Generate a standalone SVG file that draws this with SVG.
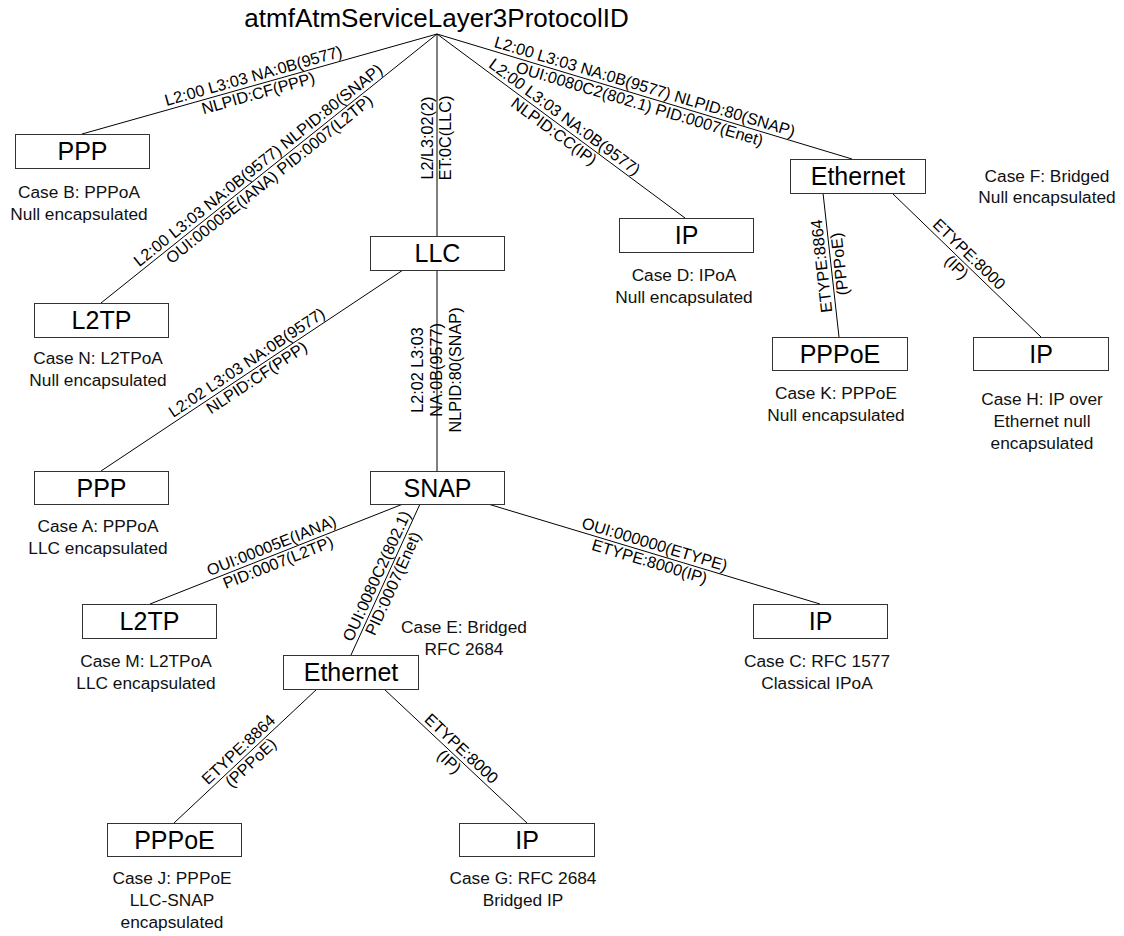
<svg xmlns="http://www.w3.org/2000/svg" width="1124" height="936" viewBox="0 0 1124 936">
<style>
.bg{fill:#fff}
.box{fill:#fff;stroke:#333;stroke-width:1}
.bt{font-family:"Liberation Sans",Arial,sans-serif;font-size:25px;text-anchor:middle;fill:#000}
.ct{font-family:"Liberation Sans",Arial,sans-serif;font-size:17.3px;text-anchor:middle;fill:#111}
.lt{font-family:"Liberation Sans",Arial,sans-serif;font-size:16.2px;text-anchor:middle;fill:#000}
.title{font-family:"Liberation Sans",Arial,sans-serif;font-size:26px;text-anchor:middle;fill:#000}
.conn{stroke:#000;stroke-width:1;fill:none}
</style>
<rect class="bg" x="0" y="0" width="1124" height="936"/>
<g id="root"><text class="title" x="436.5" y="27">atmfAtmServiceLayer3ProtocolID</text></g>
<g id="connectors">
  <line class="conn" x1="437" y1="34" x2="82" y2="134"/>
  <line class="conn" x1="437" y1="34" x2="101" y2="303"/>
  <line class="conn" x1="437" y1="34" x2="437" y2="236"/>
  <line class="conn" x1="437" y1="34" x2="685" y2="218"/>
  <line class="conn" x1="437" y1="34" x2="852" y2="159"/>
  <line class="conn" x1="823" y1="193" x2="839" y2="337"/>
  <line class="conn" x1="892" y1="193" x2="1041" y2="337"/>
  <line class="conn" x1="403" y1="270" x2="101" y2="471"/>
  <line class="conn" x1="437" y1="270" x2="437" y2="471"/>
  <line class="conn" x1="403" y1="504" x2="150" y2="604"/>
  <line class="conn" x1="420" y1="504" x2="351" y2="655"/>
  <line class="conn" x1="488" y1="504" x2="820" y2="604"/>
  <line class="conn" x1="317" y1="689" x2="174" y2="823"/>
  <line class="conn" x1="384" y1="689" x2="527" y2="823"/>
  <text class="lt" transform="translate(256,85) rotate(-15.73)"><tspan x="0" y="-4">L2:00 L3:03 NA:0B(9577)</tspan><tspan x="0" y="14">NLPID:CF(PPP)</tspan></text>
  <text class="lt" transform="translate(264,172.5) rotate(-38.68)"><tspan x="0" y="-4">L2:00 L3:03 NA:0B(9577) NLPID:80(SNAP)</tspan><tspan x="0" y="14">OUI:00005E(IANA) PID:0007(L2TP)</tspan></text>
  <text class="lt" transform="translate(437,138) rotate(-90)"><tspan x="0" y="-4">L2/L3:02(2)</tspan><tspan x="0" y="14">ET:0C(LLC)</tspan></text>
  <text class="lt" transform="translate(559,124.5) rotate(36.57)"><tspan x="0" y="-4">L2:00 L3:03 NA:0B(9577)</tspan><tspan x="0" y="14">NLPID:CC(IP)</tspan></text>
  <text class="lt" transform="translate(642,95.7) rotate(16.76)"><tspan x="0" y="-4">L2:00 L3:03 NA:0B(9577) NLPID:80(SNAP)</tspan><tspan x="0" y="14">OUI:0080C2(802.1) PID:0007(Enet)</tspan></text>
  <text class="lt" transform="translate(831,265) rotate(-96.34)"><tspan x="0" y="-4">ETYPE:8864</tspan><tspan x="0" y="14">(PPPoE)</tspan></text>
  <text class="lt" transform="translate(962.5,261) rotate(44.02)"><tspan x="0" y="-4">ETYPE:8000</tspan><tspan x="0" y="14">(IP)</tspan></text>
  <text class="lt" transform="translate(252,370.5) rotate(-33.64)"><tspan x="0" y="-4">L2:02 L3:03 NA:0B(9577)</tspan><tspan x="0" y="14">NLPID:CF(PPP)</tspan></text>
  <text class="lt" transform="translate(437,370) rotate(-90)"><tspan x="0" y="-14">L2:02 L3:03</tspan><tspan x="0" y="5">NA:0B(9577)</tspan><tspan x="0" y="24">NLPID:80(SNAP)</tspan></text>
  <text class="lt" transform="translate(275,554.6) rotate(-21.57)"><tspan x="0" y="-4">OUI:00005E(IANA)</tspan><tspan x="0" y="14">PID:0007(L2TP)</tspan></text>
  <text class="lt" transform="translate(385.3,580) rotate(-65.44)"><tspan x="0" y="-4">OUI:0080C2(802.1)</tspan><tspan x="0" y="14">PID:0007(Enet)</tspan></text>
  <text class="lt" transform="translate(652,553.4) rotate(16.76)"><tspan x="0" y="-4">OUI:000000(ETYPE)</tspan><tspan x="0" y="14">ETYPE:8000(IP)</tspan></text>
  <text class="lt" transform="translate(245,756.5) rotate(-43.14)"><tspan x="0" y="-4">ETYPE:8864</tspan><tspan x="0" y="14">(PPPoE)</tspan></text>
  <text class="lt" transform="translate(455,755.5) rotate(43.14)"><tspan x="0" y="-4">ETYPE:8000</tspan><tspan x="0" y="14">(IP)</tspan></text>
</g>
<g id="nodeB">
  <rect class="box" x="15.5" y="134.5" width="134" height="34"/>
  <text class="bt" x="82.5" y="159.5">PPP</text>
  <text class="ct"><tspan x="79" y="197.5">Case B: PPPoA</tspan><tspan x="79" y="219.5">Null encapsulated</tspan></text>
</g>
<g id="nodeN">
  <rect class="box" x="34.5" y="303.5" width="134" height="34"/>
  <text class="bt" x="101.5" y="328.5">L2TP</text>
  <text class="ct"><tspan x="98" y="364">Case N: L2TPoA</tspan><tspan x="98" y="386">Null encapsulated</tspan></text>
</g>
<g id="nodeLLC">
  <rect class="box" x="370.5" y="236.5" width="134" height="34"/>
  <text class="bt" x="437.5" y="261.5">LLC</text>
</g>
<g id="nodeD">
  <rect class="box" x="619.5" y="218.5" width="134" height="34"/>
  <text class="bt" x="686.5" y="243.5">IP</text>
  <text class="ct"><tspan x="684" y="281">Case D: IPoA</tspan><tspan x="684" y="302.5">Null encapsulated</tspan></text>
</g>
<g id="nodeF">
  <rect class="box" x="790.5" y="159.5" width="135" height="34"/>
  <text class="bt" x="858" y="184.5">Ethernet</text>
  <text class="ct"><tspan x="1047" y="181.5">Case F: Bridged</tspan><tspan x="1047" y="203">Null encapsulated</tspan></text>
</g>
<g id="nodeK">
  <rect class="box" x="772.5" y="337.5" width="135" height="33"/>
  <text class="bt" x="840" y="362.5">PPPoE</text>
  <text class="ct"><tspan x="836" y="399">Case K: PPPoE</tspan><tspan x="836" y="421">Null encapsulated</tspan></text>
</g>
<g id="nodeH">
  <rect class="box" x="973.5" y="337.5" width="135" height="33"/>
  <text class="bt" x="1041" y="362.5">IP</text>
  <text class="ct"><tspan x="1042" y="405">Case H: IP over</tspan><tspan x="1042" y="427">Ethernet null</tspan><tspan x="1042" y="449">encapsulated</tspan></text>
</g>
<g id="nodeA">
  <rect class="box" x="34.5" y="471.5" width="134" height="33"/>
  <text class="bt" x="101.5" y="496.5">PPP</text>
  <text class="ct"><tspan x="98" y="531.5">Case A: PPPoA</tspan><tspan x="98" y="554">LLC encapsulated</tspan></text>
</g>
<g id="nodeSNAP">
  <rect class="box" x="370.5" y="471.5" width="134" height="33"/>
  <text class="bt" x="437.5" y="496.5">SNAP</text>
</g>
<g id="nodeM">
  <rect class="box" x="82.5" y="604.5" width="134" height="34"/>
  <text class="bt" x="149.5" y="629.5">L2TP</text>
  <text class="ct"><tspan x="146" y="667">Case M: L2TPoA</tspan><tspan x="146" y="689">LLC encapsulated</tspan></text>
</g>
<g id="nodeE">
  <rect class="box" x="283.5" y="655.5" width="135" height="34"/>
  <text class="bt" x="351" y="680.5">Ethernet</text>
  <text class="ct"><tspan x="464" y="633">Case E: Bridged</tspan><tspan x="464" y="655">RFC 2684</tspan></text>
</g>
<g id="nodeC">
  <rect class="box" x="753.5" y="604.5" width="134" height="34"/>
  <text class="bt" x="820.5" y="629.5">IP</text>
  <text class="ct"><tspan x="817" y="667">Case C: RFC 1577</tspan><tspan x="817" y="689">Classical IPoA</tspan></text>
</g>
<g id="nodeJ">
  <rect class="box" x="107.5" y="823.5" width="134" height="33"/>
  <text class="bt" x="174.5" y="848.5">PPPoE</text>
  <text class="ct"><tspan x="172" y="884">Case J: PPPoE</tspan><tspan x="172" y="906">LLC-SNAP</tspan><tspan x="172" y="928">encapsulated</tspan></text>
</g>
<g id="nodeG">
  <rect class="box" x="459.5" y="823.5" width="135" height="33"/>
  <text class="bt" x="527" y="848.5">IP</text>
  <text class="ct"><tspan x="523" y="884">Case G: RFC 2684</tspan><tspan x="523" y="906">Bridged IP</tspan></text>
</g>
</svg>
